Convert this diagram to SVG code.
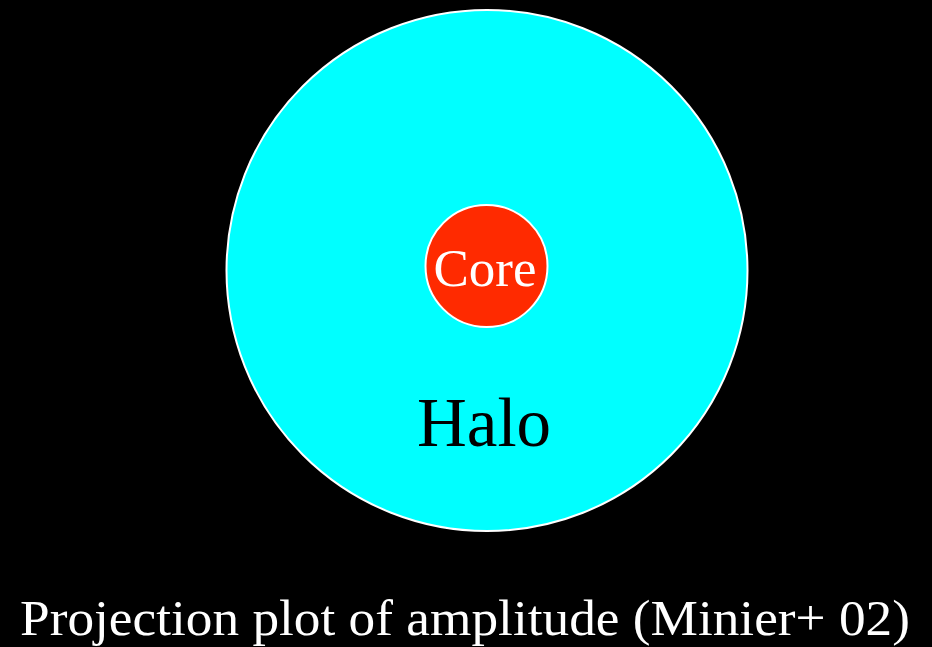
<svg xmlns="http://www.w3.org/2000/svg" width="932" height="647" viewBox="0 0 932 647">
<style>
.lbl{font-family:"Liberation Serif","DejaVu Serif",serif;text-anchor:middle}
</style>
<rect width="932" height="647" fill="#000"/>
<g id="halo">
<circle cx="487" cy="270.5" r="260.5" fill="#00ffff" stroke="#fff" stroke-width="2"/>
<text class="lbl" x="484" y="446" font-size="69" fill="#000">Halo</text>
</g>
<g id="core">
<circle cx="486.5" cy="266" r="61" fill="#ff2a00" stroke="#fff" stroke-width="2"/>
<text class="lbl" x="485" y="286" font-size="53" fill="#fff">Core</text>
</g>
<g id="connectors"/>
<text id="caption" x="20" y="635" font-family="Liberation Serif, DejaVu Serif, serif" font-size="50" fill="#fff" textLength="890" lengthAdjust="spacingAndGlyphs">Projection plot of amplitude (Minier+ 02)</text>
</svg>
